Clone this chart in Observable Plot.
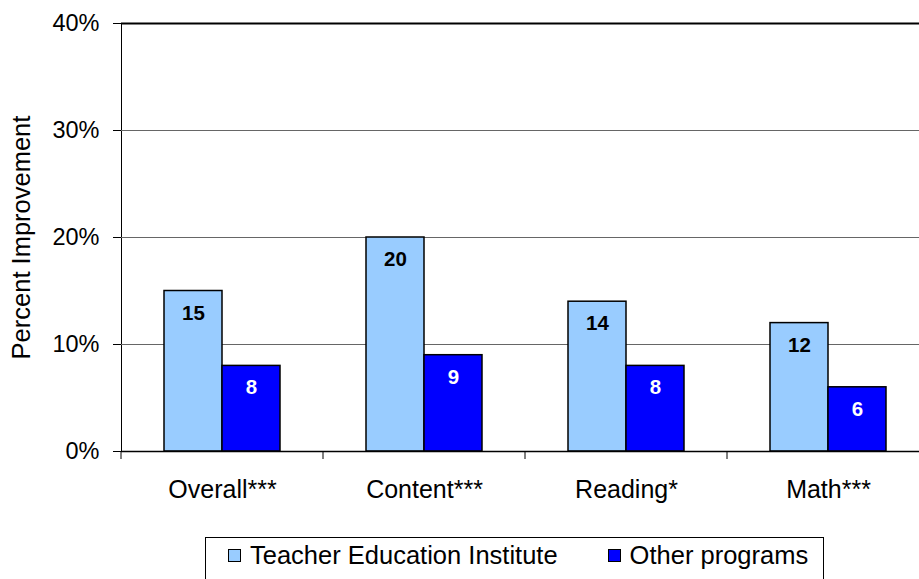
<!DOCTYPE html>
<html>
<head>
<meta charset="utf-8">
<script src="https://cdn.jsdelivr.net/npm/d3@7"></script>
<script src="https://cdn.jsdelivr.net/npm/@observablehq/plot@0.6"></script>
<style>
  html, body { margin: 0; padding: 0; background: #fff; overflow: hidden; width: 919px; height: 579px; position: relative; }
  body { font-family: "Liberation Sans", Arial, sans-serif; }
  #chart svg { overflow: visible; }
  #legend { position: absolute; left: 205px; top: 537px; width: 619px; height: 50px; border: 1px solid #000; box-sizing: border-box;
    display: flex; align-items: flex-start; padding-top: 3px; font-size: 25.5px; color: #000; }
  .item { display: flex; align-items: center; }
  .sw { width: 11px; height: 11px; border: 1px solid #000; margin-right: 9px; }
</style>
</head>
<body>
<div id="chart"></div>
<div id="legend"></div>
<script>
const categories = ["Overall***", "Content***", "Reading*", "Math***"];
const series = ["Teacher Education Institute", "Other programs"];
const teiValues = [15, 20, 14, 12];
const otherValues = [8, 9, 8, 6];
const yTicks = [0, 10, 20, 30, 40];
const colors = ["#99CCFF", "#0000FF"];
const labelColors = ["#000000", "#FFFFFF"];

const data = [];
categories.forEach((c, i) => {
  data.push({cat: c, series: series[0], value: teiValues[i]});
  data.push({cat: c, series: series[1], value: otherValues[i]});
});

const chart = Plot.plot({
  width: 919,
  height: 530,
  marginTop: 23,
  marginBottom: 79,
  marginLeft: 121,
  marginRight: 0,
  style: {fontFamily: '"Liberation Sans", Arial, sans-serif', fontSize: "23.5px", color: "#000", background: "transparent", overflow: "visible"},
  fx: {domain: categories, range: [121, 929], padding: 0, label: null, axis: "bottom", tickSize: 0, tickPadding: 29},
  x: {domain: series, axis: null, paddingInner: 0, paddingOuter: 0.72},
  y: {domain: [0, 40], ticks: yTicks, tickFormat: d => d + "%", tickSize: 8, tickPadding: 14,
      label: "Percent Improvement", labelAnchor: "center", labelOffset: 110, line: true},
  color: {domain: series, range: colors},
  marks: [
    Plot.ruleY(yTicks.filter(t => t > 0 && t < 40), {stroke: "#666", strokeWidth: 1}),
    Plot.ruleY([40], {stroke: "#000", strokeWidth: 2}),
    Plot.barY(data, {fx: "cat", x: "series", y: "value", fill: "series", stroke: "#000", strokeWidth: 1.5}),
    Plot.ruleY([0], {stroke: "#000", strokeWidth: 1.5}),
    Plot.text(data, {fx: "cat", x: "series", y: "value", text: d => String(d.value), dy: 22,
      fill: d => labelColors[series.indexOf(d.series)], fontWeight: "bold", fontSize: 20.5})
  ]
});
document.getElementById("chart").appendChild(chart);

const svgEl = chart.tagName.toLowerCase() === "svg" ? chart : chart.querySelector("svg");
svgEl.querySelectorAll("text").forEach(t => {
  if (/[↑↓→←]/.test(t.textContent) || t.textContent.trim() === "Percent Improvement") {
    t.textContent = t.textContent.replace(/[↑↓→←]/g, "").trim();
    t.setAttribute("font-size", "25.5px");
    t.style.fontSize = "25.5px";
  }
  if (categories.includes(t.textContent.trim())) {
    t.style.fontSize = "25px";
  }
});

// bottom tick marks at category boundaries, from the fx scale
const fxs = chart.scale("fx");
const band = d3.scaleBand().domain(fxs.domain).range(fxs.range).paddingInner(fxs.paddingInner || 0).paddingOuter(fxs.paddingOuter || 0);
const y0 = chart.scale("y").apply(0);
d3.select(svgEl).append("g").selectAll("line").data(fxs.domain).join("line")
  .attr("x1", d => band(d)).attr("x2", d => band(d))
  .attr("y1", y0).attr("y2", y0 + 8)
  .attr("stroke", "#000").attr("stroke-width", 1);

// legend
const legend = document.getElementById("legend");
series.forEach((s, i) => {
  const it = document.createElement("div");
  it.className = "item";
  it.style.marginLeft = i === 0 ? "22px" : "50px";
  const sw = document.createElement("div");
  sw.className = "sw";
  sw.style.background = colors[i];
  const t = document.createElement("span");
  t.textContent = s;
  it.appendChild(sw); it.appendChild(t);
  legend.appendChild(it);
});
</script>
</body>
</html>
